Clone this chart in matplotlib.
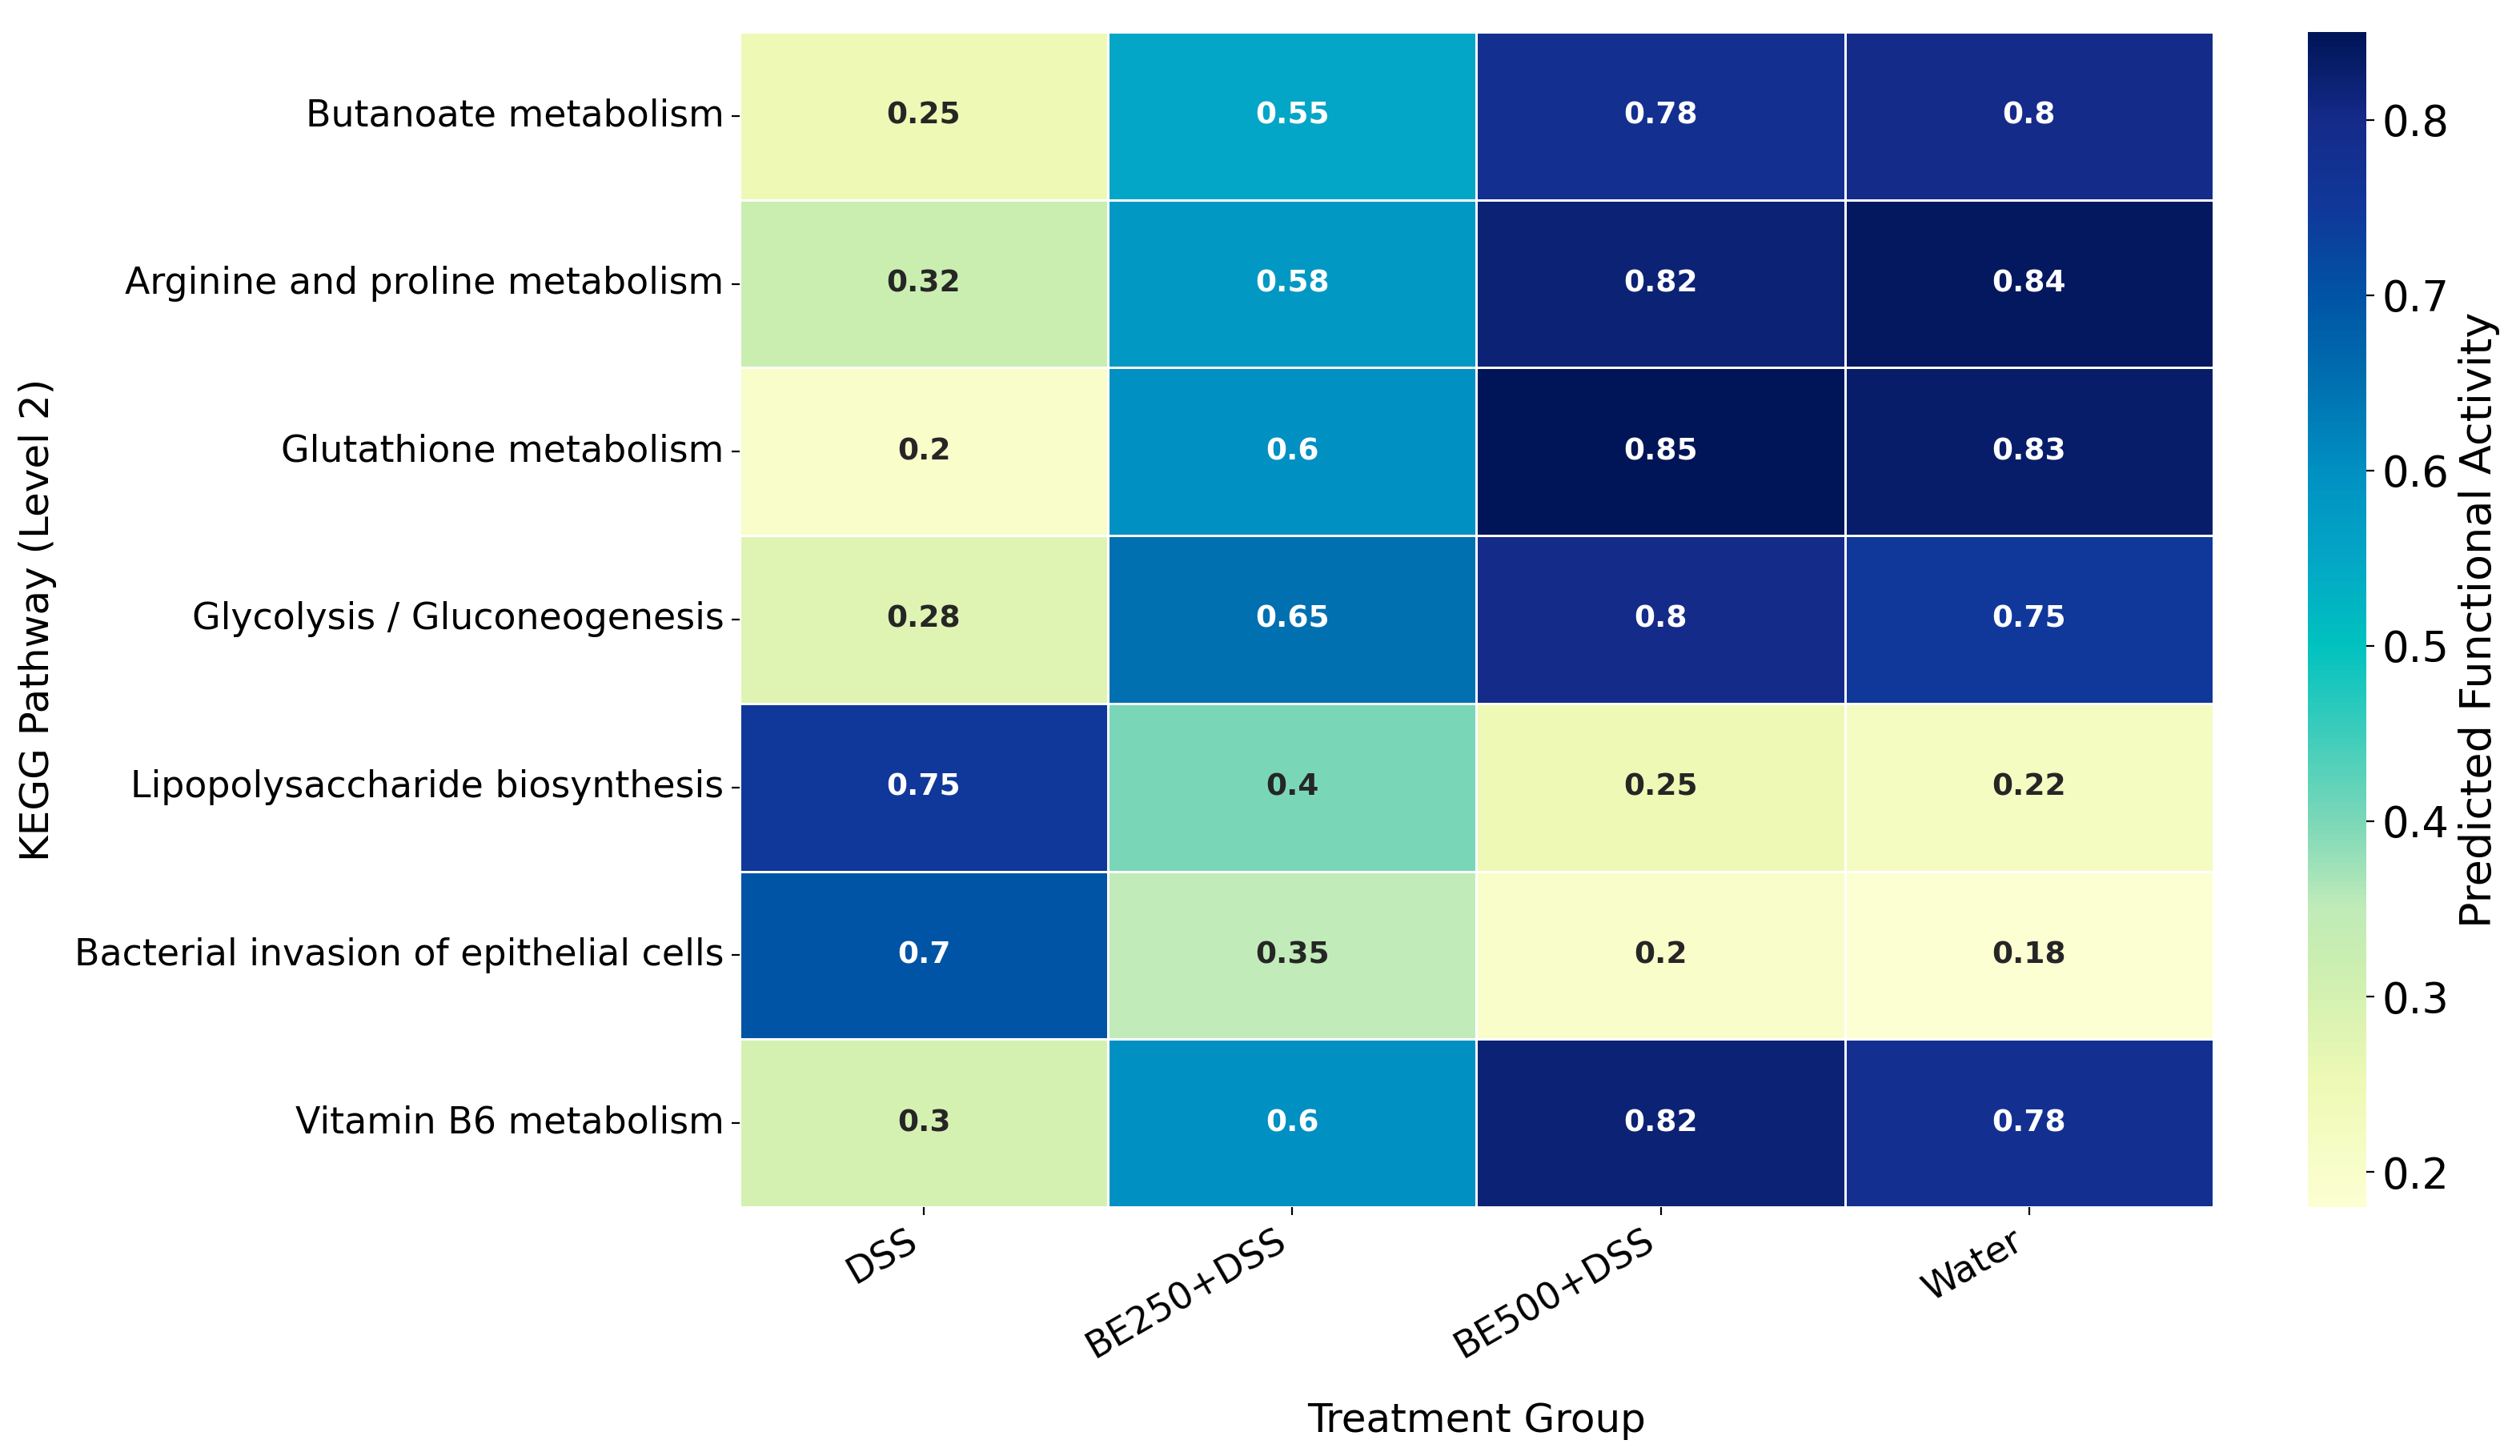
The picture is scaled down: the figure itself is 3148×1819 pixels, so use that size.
import matplotlib
matplotlib.use("Agg")
import matplotlib.pyplot as plt
from matplotlib.colors import LinearSegmentedColormap
import numpy as np
import pandas as pd
import seaborn as sns

# Data
pathways = [
    "Butanoate metabolism",
    "Arginine and proline metabolism",
    "Glutathione metabolism",
    "Glycolysis / Gluconeogenesis",
    "Lipopolysaccharide biosynthesis",
    "Bacterial invasion of epithelial cells",
    "Vitamin B6 metabolism",
]
groups = ["DSS", "BE250+DSS", "BE500+DSS", "Water"]

dss = [0.25, 0.32, 0.2, 0.28, 0.75, 0.7, 0.3]
be250 = [0.55, 0.58, 0.6, 0.65, 0.4, 0.35, 0.6]
be500 = [0.78, 0.82, 0.85, 0.8, 0.25, 0.2, 0.82]
water = [0.8, 0.84, 0.83, 0.75, 0.22, 0.18, 0.78]

df = pd.DataFrame({"DSS": dss, "BE250+DSS": be250, "BE500+DSS": be500, "Water": water},
                  index=pathways)[groups]

vmin, vmax = df.values.min(), df.values.max()

# a more saturated YlGnBu, sampled from the reference cells
anchors = [
    (0.18, "#fcffd2"), (0.25, "#eef9b5"), (0.32, "#caeeb0"), (0.35, "#c0ebb8"),
    (0.40, "#7ad7b8"), (0.50, "#00c2bf"), (0.55, "#03a6c6"), (0.60, "#0090c2"),
    (0.65, "#0070b0"), (0.70, "#0054a5"), (0.75, "#10389a"), (0.80, "#152b8a"),
    (0.85, "#001557"),
]
cmap = LinearSegmentedColormap.from_list(
    "ylgnbu_sat", [((v - vmin) / (vmax - vmin), c) for v, c in anchors])

fig = plt.figure(figsize=(15.74, 9.095), dpi=200)
ax = fig.add_axes([0.2935, 0.171, 0.5848, 0.807])
cax = fig.add_axes([0.9158, 0.171, 0.0232, 0.807])

sns.heatmap(df, ax=ax, cbar_ax=cax, cmap=cmap, vmin=vmin, vmax=vmax,
            annot=True, fmt=".2g", linewidths=1, linecolor="white",
            annot_kws={"fontsize": 13.5, "fontweight": "bold"},
            cbar_kws={"label": "Predicted Functional Activity"})

ax.set_xlabel("Treatment Group", fontsize=18, labelpad=16)
ax.set_ylabel("KEGG Pathway (Level 2)", fontsize=18, labelpad=8)
ax.tick_params(axis="both", labelsize=16.5)
plt.setp(ax.get_xticklabels(), rotation=30, ha="right")
plt.setp(ax.get_yticklabels(), rotation=0)

cax.tick_params(labelsize=19)
cax.yaxis.label.set_size(19.5)

fig.savefig("out.png", dpi=200)
